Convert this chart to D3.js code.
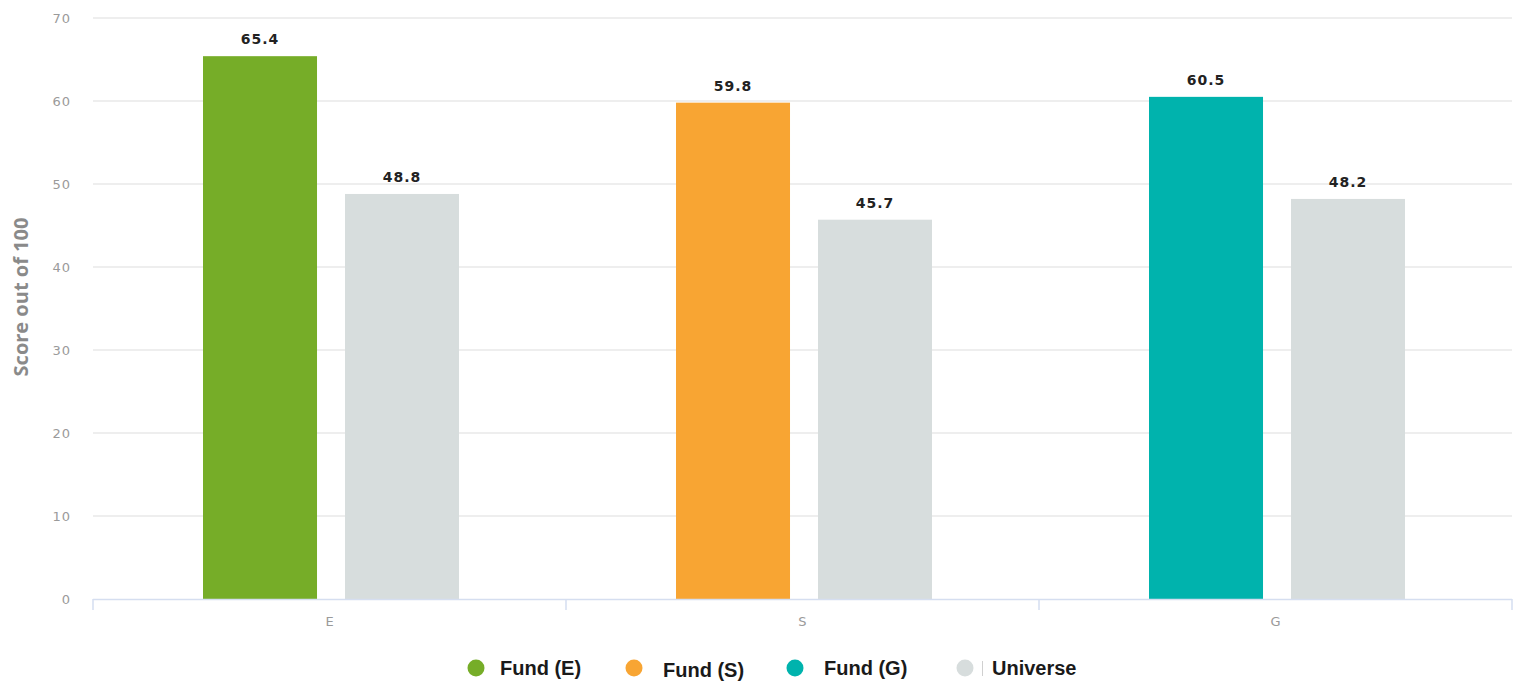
<!DOCTYPE html>
<html>
<head>
<meta charset="utf-8">
<script src="https://cdn.jsdelivr.net/npm/d3@7"></script>
<style>
    body { margin: 0; background: #fff; }
    svg { display: block; }
</style>
</head>
<body>
<svg id="chart"></svg>
<script>
const   width  = 1514,
        height = 681;

// data
const categories   = ["E", "S", "G"];
const fundValues   = [65.4, 59.8, 60.5];
const universeVals = [48.8, 45.7, 48.2];
const fundColors   = ["#76ad28", "#f8a533", "#00b3ad"];
const universeColor = "#d7dddd";
const legendLabels = ["Fund (E)", "Fund (S)", "Fund (G)", "Universe"];
const yTicks = [0, 10, 20, 30, 40, 50, 60, 70];

const PLOT = { LEFT: 93, RIGHT: 1512, TOP: 18, BOTTOM: 599 };

const svg = d3.select("#chart").attr("width", width).attr("height", height);

const x = d3.scaleBand()
    .domain(categories)
    .range([PLOT.LEFT, PLOT.RIGHT])
    .padding(0);

// inner band for fund / universe inside each category
const xInner = d3.scaleBand()
    .domain(["fund", "universe"])
    .range([110, 366])
    .paddingInner(0.197)
    .paddingOuter(0);

const y = d3.scaleLinear()
    .domain([0, 70])
    .range([PLOT.BOTTOM, PLOT.TOP]);

// gridlines
svg.append("g")
    .selectAll("line")
    .data(yTicks.filter(d => d > 0))
    .enter()
    .append("line")
    .attr("x1", PLOT.LEFT)
    .attr("x2", PLOT.RIGHT)
    .attr("y1", d => y(d))
    .attr("y2", d => y(d))
    .attr("stroke", "#e8e8e8")
    .attr("stroke-width", 1.5);

// y tick labels
svg.append("g")
    .selectAll("text")
    .data(yTicks)
    .enter()
    .append("text")
    .attr("x", 71)
    .attr("y", d => y(d) + 5)
    .attr("text-anchor", "end")
    .attr("font-family", "DejaVu Sans, sans-serif")
    .attr("font-size", 13)
    .attr("letter-spacing", 1)
    .attr("fill", "#9a9a9a")
    .text(d => d);

// y title
svg.append("text")
    .attr("transform", "translate(28,297) rotate(-90)")
    .attr("text-anchor", "middle")
    .attr("font-family", "Open Sans, sans-serif")
    .attr("font-weight", "bold")
    .attr("font-size", 20)
    .attr("fill", "#8a8a8a")
    .text("Score out of 100");

// bars
const rows = categories.map((c, i) => ({ cat: c, fund: fundValues[i], universe: universeVals[i], color: fundColors[i] }));

const groups = svg.append("g")
    .selectAll("g")
    .data(rows)
    .enter()
    .append("g")
    .attr("transform", d => `translate(${x(d.cat)},0)`);

groups.append("rect")
    .attr("x", xInner("fund"))
    .attr("width", xInner.bandwidth())
    .attr("y", d => y(d.fund))
    .attr("height", d => y(0) - y(d.fund))
    .attr("fill", d => d.color);

groups.append("rect")
    .attr("x", xInner("universe"))
    .attr("width", xInner.bandwidth())
    .attr("y", d => y(d.universe))
    .attr("height", d => y(0) - y(d.universe))
    .attr("fill", universeColor);

const labelStyle = sel => sel
    .attr("text-anchor", "middle")
    .attr("font-family", "DejaVu Sans, sans-serif")
    .attr("font-weight", "bold")
    .attr("font-size", 14)
    .attr("letter-spacing", 1)
    .attr("fill", "#222");

groups.append("text")
    .attr("x", xInner("fund") + xInner.bandwidth() / 2)
    .attr("y", d => y(d.fund) - 12)
    .call(labelStyle)
    .text(d => d.fund.toFixed(1));

groups.append("text")
    .attr("x", xInner("universe") + xInner.bandwidth() / 2)
    .attr("y", d => y(d.universe) - 12)
    .call(labelStyle)
    .text(d => d.universe.toFixed(1));

// x axis
const axisColor = "#d5def0";
svg.append("line")
    .attr("x1", PLOT.LEFT).attr("x2", PLOT.RIGHT)
    .attr("y1", PLOT.BOTTOM + 0.5).attr("y2", PLOT.BOTTOM + 0.5)
    .attr("stroke", axisColor)
    .attr("stroke-width", 1.5);

const bounds = categories.map(c => x(c)).concat([PLOT.RIGHT]);
svg.append("g")
    .selectAll("line")
    .data(bounds)
    .enter()
    .append("line")
    .attr("x1", d => d).attr("x2", d => d)
    .attr("y1", PLOT.BOTTOM).attr("y2", PLOT.BOTTOM + 11)
    .attr("stroke", axisColor)
    .attr("stroke-width", 1.5);

svg.append("g")
    .selectAll("text")
    .data(categories)
    .enter()
    .append("text")
    .attr("x", d => x(d) + x.bandwidth() / 2)
    .attr("y", 626)
    .attr("text-anchor", "middle")
    .attr("font-family", "DejaVu Sans, sans-serif")
    .attr("font-size", 13)
    .attr("fill", "#9a9a9a")
    .text(d => d);

// legend
const legendX = [476, 634, 795, 965];
const legendColors = fundColors.concat([universeColor]);
const legend = svg.append("g")
    .selectAll("g")
    .data(legendLabels)
    .enter()
    .append("g")
    .attr("transform", (d, i) => `translate(${legendX[i]},668)`);

legend.append("circle")
    .attr("r", 8.5)
    .attr("fill", (d, i) => legendColors[i]);

legend.append("text")
    .attr("x", (d, i) => [24, 29, 29, 27][i])
    .attr("y", (d, i) => i === 1 ? 9 : 7)
    .attr("font-family", "Liberation Sans, Arial, sans-serif")
    .attr("font-weight", "bold")
    .attr("font-size", 20)
    .attr("fill", "#1a1a1a")
    .text(d => d);

// faint mark before "Universe" as in the source image
svg.append("line")
    .attr("x1", 982.5).attr("x2", 982.5)
    .attr("y1", 661).attr("y2", 676)
    .attr("stroke", "#d0d0d0")
    .attr("stroke-width", 1);
</script>
</body>
</html>
